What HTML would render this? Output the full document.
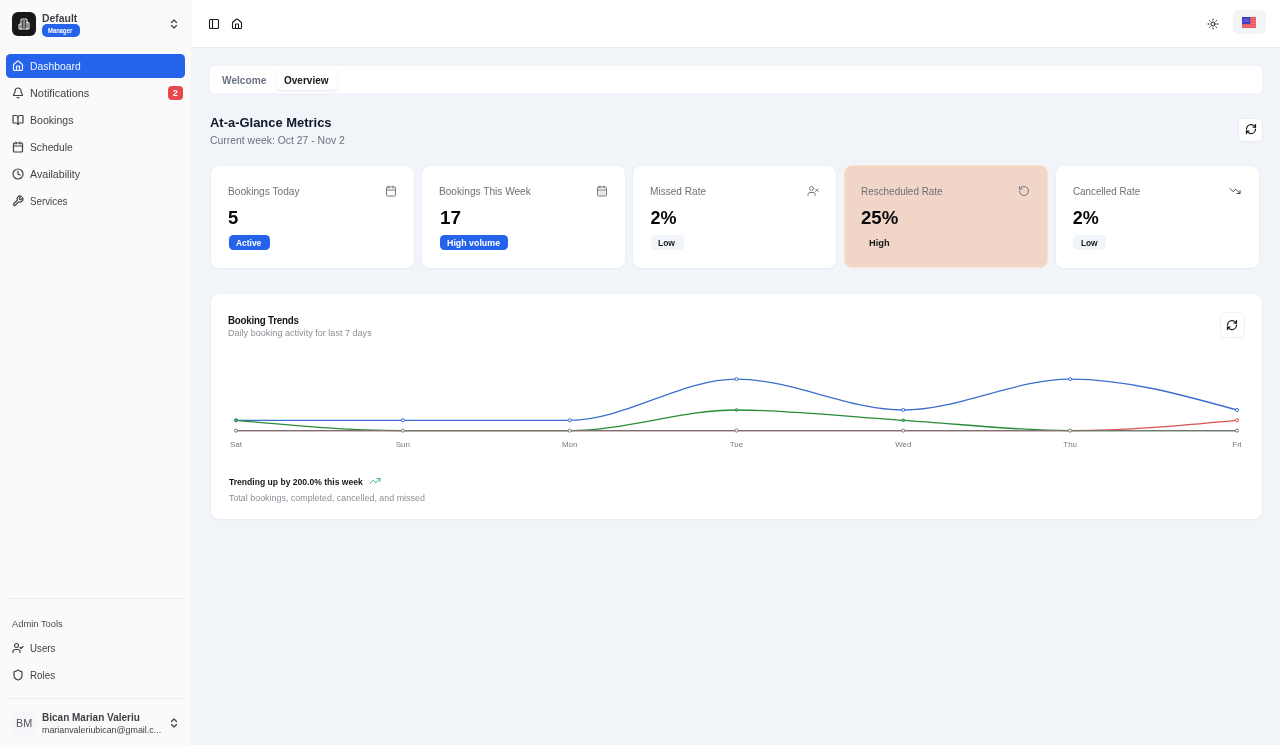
<!DOCTYPE html>
<html lang="en"><head><meta charset="utf-8"><title>Dashboard</title>
<style>
*{box-sizing:border-box;margin:0;padding:0}
html,body{width:1280px;height:745px;overflow:hidden;background:#f1f5f9;font-family:"Liberation Sans",sans-serif;}
#root{will-change:transform;position:relative;width:1280px;height:745px;overflow:hidden}
.g{display:contents}
.b{position:absolute}
.t{position:absolute;white-space:nowrap;font-family:"Liberation Sans",sans-serif}
.ic{position:absolute;overflow:visible}
.card{position:absolute;background:#fff;border-radius:8px;box-shadow:0 0 0 .75px rgba(226,232,240,.5),0 1px 2.5px rgba(15,23,42,.035)}
</style></head><body><div id="root">
<aside class="g">
<div class="b" style="left:0px;top:0px;width:191.5px;height:745px;background:#fafafa;border-radius:0px;"></div>
<div class="b" style="left:191px;top:47.5px;width:1px;height:697.5px;background:#f3f4f5;border-radius:0px;"></div>
<div class="b" style="left:12px;top:12px;width:24px;height:24px;background:#18181b;border-radius:6px;"></div>
<svg class="ic" style="left:18.00px;top:18.00px;width:12px;height:12px;" viewBox="0 0 24 24" fill="none" stroke="#f4f4f5" stroke-width="2.2" stroke-linecap="round" stroke-linejoin="round"><path d="M6 22V4a2 2 0 0 1 2-2h8a2 2 0 0 1 2 2v18Z"/><path d="M6 12H4a2 2 0 0 0-2 2v6a2 2 0 0 0 2 2h2"/><path d="M18 9h2a2 2 0 0 1 2 2v9a2 2 0 0 1-2 2h-2"/><path d="M10 6h4"/><path d="M10 10h4"/><path d="M10 14h4"/><path d="M10 18h4"/></svg>
<div class="b" style="left:42px;top:24px;width:37.6px;height:12.8px;background:#2563eb;border-radius:5px;"></div>
<svg class="ic" style="left:168.00px;top:18.00px;width:12px;height:12px;" viewBox="0 0 24 24" fill="none" stroke="#3f3f46" stroke-width="2.4" stroke-linecap="round" stroke-linejoin="round"><path d="m7 15 5 5 5-5"/><path d="m7 9 5-5 5 5"/></svg>
<div class="b" style="left:6px;top:54px;width:179px;height:24px;background:#2563eb;border-radius:4.5px;"></div>
<svg class="ic" style="left:12.00px;top:60.00px;width:12px;height:12px;" viewBox="0 0 24 24" fill="none" stroke="#eff6ff" stroke-width="2.4" stroke-linecap="round" stroke-linejoin="round"><path d="M15 21v-8a1 1 0 0 0-1-1h-4a1 1 0 0 0-1 1v8"/><path d="M3 10a2 2 0 0 1 .709-1.528l7-5.999a2 2 0 0 1 2.582 0l7 5.999A2 2 0 0 1 21 10v9a2 2 0 0 1-2 2H5a2 2 0 0 1-2-2z"/></svg>
<svg class="ic" style="left:12.00px;top:87.00px;width:12px;height:12px;" viewBox="0 0 24 24" fill="none" stroke="#3f3f46" stroke-width="2.4" stroke-linecap="round" stroke-linejoin="round"><path d="M10.268 21a2 2 0 0 0 3.464 0"/><path d="M3.262 15.326A1 1 0 0 0 4 17h16a1 1 0 0 0 .74-1.673C19.41 13.956 18 12.499 18 8A6 6 0 0 0 6 8c0 4.499-1.411 5.956-2.738 7.326"/></svg>
<svg class="ic" style="left:12.00px;top:114.00px;width:12px;height:12px;" viewBox="0 0 24 24" fill="none" stroke="#3f3f46" stroke-width="2.4" stroke-linecap="round" stroke-linejoin="round"><path d="M12 7v14"/><path d="M3 18a1 1 0 0 1-1-1V4a1 1 0 0 1 1-1h5a4 4 0 0 1 4 4 4 4 0 0 1 4-4h5a1 1 0 0 1 1 1v13a1 1 0 0 1-1 1h-6a3 3 0 0 0-3 3 3 3 0 0 0-3-3z"/></svg>
<svg class="ic" style="left:12.00px;top:141.00px;width:12px;height:12px;" viewBox="0 0 24 24" fill="none" stroke="#3f3f46" stroke-width="2.4" stroke-linecap="round" stroke-linejoin="round"><path d="M8 2v4"/><path d="M16 2v4"/><rect width="18" height="18" x="3" y="4" rx="2"/><path d="M3 10h18"/></svg>
<svg class="ic" style="left:12.00px;top:168.00px;width:12px;height:12px;" viewBox="0 0 24 24" fill="none" stroke="#3f3f46" stroke-width="2.4" stroke-linecap="round" stroke-linejoin="round"><circle cx="12" cy="12" r="10"/><polyline points="12 6 12 12 16 14"/></svg>
<svg class="ic" style="left:12.00px;top:195.00px;width:12px;height:12px;" viewBox="0 0 24 24" fill="none" stroke="#3f3f46" stroke-width="2.4" stroke-linecap="round" stroke-linejoin="round"><path d="M14.7 6.3a1 1 0 0 0 0 1.4l1.6 1.6a1 1 0 0 0 1.4 0l3.77-3.77a6 6 0 0 1-7.94 7.94l-6.91 6.91a2.12 2.12 0 0 1-3-3l6.91-6.91a6 6 0 0 1 7.94-7.94l-3.76 3.76z"/></svg>
<div class="b" style="left:168px;top:85.8px;width:14.6px;height:14.6px;background:#e5484d;border-radius:4px;"></div>
<div class="b" style="left:8px;top:598px;width:176px;height:0.75px;background:#ececee;border-radius:0px;"></div>
<div class="b" style="left:8px;top:698px;width:176px;height:0.75px;background:#ececee;border-radius:0px;"></div>
<svg class="ic" style="left:12.00px;top:642.00px;width:12px;height:12px;" viewBox="0 0 24 24" fill="none" stroke="#3f3f46" stroke-width="2.4" stroke-linecap="round" stroke-linejoin="round"><path d="m16 11 2 2 4-4"/><path d="M16 21v-2a4 4 0 0 0-4-4H6a4 4 0 0 0-4 4v2"/><circle cx="9" cy="7" r="4"/></svg>
<svg class="ic" style="left:12.00px;top:669.00px;width:12px;height:12px;" viewBox="0 0 24 24" fill="none" stroke="#3f3f46" stroke-width="2.4" stroke-linecap="round" stroke-linejoin="round"><path d="M20 13c0 5-3.5 7.5-7.66 8.95a1 1 0 0 1-.67-.01C7.5 20.5 4 18 4 13V6a1 1 0 0 1 1-1c2 0 4.5-1.2 6.24-2.72a1.17 1.17 0 0 1 1.52 0C14.51 3.81 17 5 19 5a1 1 0 0 1 1 1z"/></svg>
<div class="b" style="left:12px;top:711px;width:24px;height:24px;background:#f4f6f9;border-radius:6px;"></div>
<svg class="ic" style="left:168.00px;top:717.00px;width:12px;height:12px;" viewBox="0 0 24 24" fill="none" stroke="#3f3f46" stroke-width="2.4" stroke-linecap="round" stroke-linejoin="round"><path d="m7 15 5 5 5-5"/><path d="m7 9 5-5 5 5"/></svg>
<span class="t" style="left:41.95px;top:11.56px;font-size:10.5px;line-height:12.60px;font-weight:700;color:#3f3f46;transform-origin:0 50%;transform:scaleX(0.9899);">Default</span>
<span class="t" style="left:48.41px;top:26.94px;font-size:6.3px;line-height:7.56px;font-weight:700;color:#ffffff;transform-origin:0 50%;transform:scaleX(0.9373);">Manager</span>
<span class="t" style="left:29.76px;top:60.46px;font-size:10.5px;line-height:12.60px;font-weight:400;color:#eff6ff;transform-origin:0 50%;transform:scaleX(0.9900);">Dashboard</span>
<span class="t" style="left:29.72px;top:87.36px;font-size:10.5px;line-height:12.60px;font-weight:400;color:#3f3f46;transform-origin:0 50%;transform:scaleX(1.0357);">Notifications</span>
<span class="t" style="left:29.75px;top:114.46px;font-size:10.5px;line-height:12.60px;font-weight:400;color:#3f3f46;transform-origin:0 50%;transform:scaleX(1.0048);">Bookings</span>
<span class="t" style="left:30.01px;top:141.46px;font-size:10.5px;line-height:12.60px;font-weight:400;color:#3f3f46;transform-origin:0 50%;transform:scaleX(0.9754);">Schedule</span>
<span class="t" style="left:29.94px;top:168.36px;font-size:10.5px;line-height:12.60px;font-weight:400;color:#3f3f46;transform-origin:0 50%;transform:scaleX(1.0132);">Availability</span>
<span class="t" style="left:30.03px;top:195.46px;font-size:10.5px;line-height:12.60px;font-weight:400;color:#3f3f46;transform-origin:0 50%;transform:scaleX(0.9316);">Services</span>
<span class="t" style="left:175.30px;top:87.68px;font-size:9px;line-height:10.80px;font-weight:700;color:#ffffff;transform:translateX(-50%);">2</span>
<span class="t" style="left:11.94px;top:619.38px;font-size:9px;line-height:10.80px;font-weight:400;color:#4b4b52;transform-origin:0 50%;transform:scaleX(1.0392);">Admin Tools</span>
<span class="t" style="left:29.76px;top:641.76px;font-size:10.5px;line-height:12.60px;font-weight:400;color:#3f3f46;transform-origin:0 50%;transform:scaleX(0.9300);">Users</span>
<span class="t" style="left:29.75px;top:668.96px;font-size:10.5px;line-height:12.60px;font-weight:400;color:#3f3f46;transform-origin:0 50%;transform:scaleX(0.9333);">Roles</span>
<span class="t" style="left:15.82px;top:717.46px;font-size:10.5px;line-height:12.60px;font-weight:400;color:#52525b;transform-origin:0 50%;transform:scaleX(1.0286);">BM</span>
<span class="t" style="left:41.97px;top:711.26px;font-size:10.5px;line-height:12.60px;font-weight:700;color:#3f3f46;transform-origin:0 50%;transform:scaleX(0.9531);">Bican Marian Valeriu</span>
<span class="t" style="left:41.95px;top:725.38px;font-size:9px;line-height:10.80px;font-weight:400;color:#3f3f46;transform-origin:0 50%;transform:scaleX(0.9870);">marianvaleriubican@gmail.c...</span>
</aside>
<header class="g">
<div class="b" style="left:191.5px;top:0px;width:1088.5px;height:47.5px;background:#ffffff;border-radius:0px;border-bottom:0.8px solid #e7ebf0;"></div>
<svg class="ic" style="left:208.10px;top:18.00px;width:12px;height:12px;" viewBox="0 0 24 24" fill="none" stroke="#1c1c1f" stroke-width="2.2" stroke-linecap="round" stroke-linejoin="round"><rect width="18" height="18" x="3" y="3" rx="2"/><path d="M9 3v18"/></svg>
<svg class="ic" style="left:231.00px;top:17.70px;width:12px;height:12px;" viewBox="0 0 24 24" fill="none" stroke="#1c1c1f" stroke-width="2.2" stroke-linecap="round" stroke-linejoin="round"><path d="M15 21v-8a1 1 0 0 0-1-1h-4a1 1 0 0 0-1 1v8"/><path d="M3 10a2 2 0 0 1 .709-1.528l7-5.999a2 2 0 0 1 2.582 0l7 5.999A2 2 0 0 1 21 10v9a2 2 0 0 1-2 2H5a2 2 0 0 1-2-2z"/></svg>
<svg class="ic" style="left:1207.00px;top:18.00px;width:12px;height:12px;" viewBox="0 0 24 24" fill="none" stroke="#1c1c1f" stroke-width="2.0" stroke-linecap="round" stroke-linejoin="round"><circle cx="12" cy="12" r="4"/><path d="M12 2v2"/><path d="M12 20v2"/><path d="m4.93 4.93 1.41 1.41"/><path d="m17.66 17.66 1.41 1.41"/><path d="M2 12h2"/><path d="M20 12h2"/><path d="m6.34 17.66-1.41 1.41"/><path d="m19.07 4.93-1.41 1.41"/></svg>
<div class="b" style="left:1233.3px;top:10.2px;width:32.7px;height:24.1px;background:#f3f4f6;border-radius:5.5px;"></div>
<svg class="ic" style="left:1242px;top:17px;width:14px;height:11px" viewBox="0 0 14 11">
<rect width="14" height="11" fill="#ea4c52"/>
<g fill="#f4898d"><rect y="1" width="14" height=".7"/><rect y="2.7" width="14" height=".7"/><rect y="4.4" width="14" height=".7"/><rect y="6.1" width="14" height=".7"/><rect y="7.8" width="14" height=".7"/><rect y="9.5" width="14" height=".7"/></g>
<rect width="8.3" height="6.9" fill="#3f38bd"/><rect x="1.2" y="1.5" width="5.8" height="3.8" fill="#5d58d8"/></svg>
</header>
<main class="g">
<div class="b" style="left:210px;top:66px;width:1052px;height:26.5px;background:#ffffff;border-radius:5px;"></div>
<div class="b" style="left:276px;top:70.2px;width:61px;height:19.8px;background:#ffffff;border-radius:4px;box-shadow:0 0.75px 2px rgba(15,23,42,.11),0 0 0.75px rgba(15,23,42,.06);"></div>
<div class="b" style="left:1239px;top:118.5px;width:23px;height:22.5px;background:#ffffff;border-radius:4px;box-shadow:0 0 0 .75px rgba(226,232,240,.8),0 1px 1.5px rgba(15,23,42,.05);"></div>
<svg class="ic" style="left:1244.50px;top:123.00px;width:12px;height:12px;" viewBox="0 0 24 24" fill="none" stroke="#18181b" stroke-width="2.5" stroke-linecap="round" stroke-linejoin="round"><path d="M3 12a9 9 0 0 1 9-9 9.75 9.75 0 0 1 6.74 2.74L21 8"/><path d="M21 3v5h-5"/><path d="M21 12a9 9 0 0 1-9 9 9.75 9.75 0 0 1-6.74-2.74L3 16"/><path d="M8 16H3v5"/></svg>
<div class="card" style="left:211px;top:166px;width:203px;height:102px"></div>
<div class="card" style="left:422px;top:166px;width:203px;height:102px"></div>
<div class="card" style="left:633px;top:166px;width:203px;height:102px"></div>
<div class="b" style="left:844px;top:164.7px;width:204px;height:103.8px;background:#f0d5c8;border:1.5px solid #f6e8c4;border-radius:8px"></div>
<div class="card" style="left:1056px;top:166px;width:203px;height:102px"></div>
<svg class="ic" style="left:384.50px;top:185.20px;width:12px;height:12px;" viewBox="0 0 24 24" fill="none" stroke="#77797e" stroke-width="2.0" stroke-linecap="round" stroke-linejoin="round"><path d="M8 2v4"/><path d="M16 2v4"/><rect width="18" height="18" x="3" y="4" rx="2"/><path d="M3 10h18"/></svg>
<svg class="ic" style="left:595.50px;top:185.20px;width:12px;height:12px;" viewBox="0 0 24 24" fill="none" stroke="#77797e" stroke-width="2.0" stroke-linecap="round" stroke-linejoin="round"><path d="M8 2v4"/><path d="M16 2v4"/><rect width="18" height="18" x="3" y="4" rx="2"/><path d="M3 10h18"/><path d="M8 14h.01"/><path d="M12 14h.01"/><path d="M16 14h.01"/><path d="M8 18h.01"/><path d="M12 18h.01"/><path d="M16 18h.01"/></svg>
<svg class="ic" style="left:806.50px;top:185.20px;width:12px;height:12px;" viewBox="0 0 24 24" fill="none" stroke="#77797e" stroke-width="2.0" stroke-linecap="round" stroke-linejoin="round"><path d="M16 21v-2a4 4 0 0 0-4-4H6a4 4 0 0 0-4 4v2"/><circle cx="9" cy="7" r="4"/><line x1="17" x2="22" y1="8" y2="13"/><line x1="22" x2="17" y1="8" y2="13"/></svg>
<svg class="ic" style="left:1018.00px;top:185.20px;width:12px;height:12px;" viewBox="0 0 24 24" fill="none" stroke="#77797e" stroke-width="2.0" stroke-linecap="round" stroke-linejoin="round"><path d="M3 12a9 9 0 1 0 9-9 9.75 9.75 0 0 0-6.74 2.74L3 8"/><path d="M3 3v5h5"/></svg>
<svg class="ic" style="left:1229.30px;top:185.30px;width:12px;height:12px;" viewBox="0 0 24 24" fill="none" stroke="#3f3f46" stroke-width="1.9" stroke-linecap="round" stroke-linejoin="round"><polyline points="22 17 13.5 8.5 8.5 13.5 2 7"/><polyline points="16 17 22 17 22 11"/></svg>
<div class="b" style="left:229px;top:234.7px;width:40.6px;height:15.8px;background:#2563eb;border-radius:4.5px;"></div>
<div class="b" style="left:439.7px;top:234.7px;width:68px;height:15.8px;background:#2563eb;border-radius:4.5px;"></div>
<div class="b" style="left:651px;top:234.7px;width:32.5px;height:15.8px;background:#f1f5f9;border-radius:4.5px;"></div>
<div class="b" style="left:1073px;top:234.7px;width:32.5px;height:15.8px;background:#f1f5f9;border-radius:4.5px;"></div>
<div class="card" style="left:211px;top:294.3px;width:1051px;height:225px"></div>
<div class="b" style="left:1220.5px;top:313px;width:23.2px;height:23.6px;background:#ffffff;border-radius:4px;box-shadow:0 0 0 .75px rgba(232,234,238,.85),0 1px 1.5px rgba(15,23,42,.04);"></div>
<svg class="ic" style="left:1226.10px;top:319.00px;width:12px;height:12px;" viewBox="0 0 24 24" fill="none" stroke="#18181b" stroke-width="2.5" stroke-linecap="round" stroke-linejoin="round"><path d="M3 12a9 9 0 0 1 9-9 9.75 9.75 0 0 1 6.74 2.74L21 8"/><path d="M21 3v5h-5"/><path d="M21 12a9 9 0 0 1-9 9 9.75 9.75 0 0 1-6.74-2.74L3 16"/><path d="M8 16H3v5"/></svg>
<svg class="ic" style="left:369.20px;top:475.20px;width:12px;height:12px;" viewBox="0 0 24 24" fill="none" stroke="#2fb380" stroke-width="2.0" stroke-linecap="round" stroke-linejoin="round"><polyline points="22 7 13.5 15.5 8.5 10.5 2 17"/><polyline points="16 7 22 7 22 13"/></svg>
<svg class="ic" style="left:0;top:0;width:1280px;height:745px" viewBox="0 0 1280 745" fill="none"><path d="M236.00,420.30C291.61,420.30,347.22,420.30,402.83,420.30C458.44,420.30,514.05,420.30,569.66,420.30C625.27,420.30,680.88,379.10,736.49,379.10C792.10,379.10,847.71,410.00,903.32,410.00C958.93,410.00,1014.54,379.10,1070.15,379.10C1125.76,379.10,1181.37,394.55,1236.98,410.00" stroke="#3c6ecd" stroke-width="1.3"/><circle cx="236.00" cy="420.30" r="1.55" fill="#fff" stroke="#3c6ecd" stroke-width="1"/><circle cx="402.83" cy="420.30" r="1.55" fill="#fff" stroke="#3c6ecd" stroke-width="1"/><circle cx="569.66" cy="420.30" r="1.55" fill="#fff" stroke="#3c6ecd" stroke-width="1"/><circle cx="736.49" cy="379.10" r="1.55" fill="#fff" stroke="#3c6ecd" stroke-width="1"/><circle cx="903.32" cy="410.00" r="1.55" fill="#fff" stroke="#3c6ecd" stroke-width="1"/><circle cx="1070.15" cy="379.10" r="1.55" fill="#fff" stroke="#3c6ecd" stroke-width="1"/><circle cx="1236.98" cy="410.00" r="1.55" fill="#fff" stroke="#3c6ecd" stroke-width="1"/><path d="M236.00,420.30C291.61,425.45,347.22,430.60,402.83,430.60C458.44,430.60,514.05,430.60,569.66,430.60C625.27,430.60,680.88,410.00,736.49,410.00C792.10,410.00,847.71,416.87,903.32,420.30C958.93,423.73,1014.54,430.60,1070.15,430.60C1125.76,430.60,1181.37,430.60,1236.98,430.60" stroke="#288c37" stroke-width="1.3"/><circle cx="236.00" cy="420.30" r="1.25" fill="#6cc07a" stroke="#288c37" stroke-width="1"/><circle cx="736.49" cy="410.00" r="1.25" fill="#6cc07a" stroke="#288c37" stroke-width="1"/><circle cx="903.32" cy="420.30" r="1.25" fill="#6cc07a" stroke="#288c37" stroke-width="1"/><path d="M236.00,430.60C291.61,430.60,347.22,430.60,402.83,430.60C458.44,430.60,514.05,430.60,569.66,430.60C625.27,430.60,680.88,430.60,736.49,430.60C792.10,430.60,847.71,430.60,903.32,430.60C958.93,430.60,1014.54,430.60,1070.15,430.60C1125.76,430.60,1181.37,425.45,1236.98,420.30" stroke="#d9534f" stroke-width="1.3"/><circle cx="1236.98" cy="420.30" r="1.55" fill="#fff" stroke="#d9534f" stroke-width="1"/><path d="M236.00,430.60C291.61,430.60,347.22,430.60,402.83,430.60C458.44,430.60,514.05,430.60,569.66,430.60C625.27,430.60,680.88,430.60,736.49,430.60C792.10,430.60,847.71,430.60,903.32,430.60C958.93,430.60,1014.54,430.60,1070.15,430.60C1125.76,430.60,1181.37,430.60,1236.98,430.60" stroke="#767373" stroke-width="1.3"/><circle cx="236.00" cy="430.60" r="1.55" fill="#fff" stroke="#767373" stroke-width="1"/><circle cx="402.83" cy="430.60" r="1.55" fill="#fff" stroke="#767373" stroke-width="1"/><circle cx="569.66" cy="430.60" r="1.55" fill="#fff" stroke="#767373" stroke-width="1"/><circle cx="736.49" cy="430.60" r="1.55" fill="#fff" stroke="#767373" stroke-width="1"/><circle cx="903.32" cy="430.60" r="1.55" fill="#fff" stroke="#767373" stroke-width="1"/><circle cx="1070.15" cy="430.60" r="1.55" fill="#fff" stroke="#767373" stroke-width="1"/><circle cx="1236.98" cy="430.60" r="1.55" fill="#fff" stroke="#767373" stroke-width="1"/></svg>
<span class="t" style="left:222.14px;top:73.66px;font-size:10.5px;line-height:12.60px;font-weight:700;color:#6b7385;transform-origin:0 50%;transform:scaleX(0.9648);">Welcome</span>
<span class="t" style="left:284.40px;top:73.66px;font-size:10.5px;line-height:12.60px;font-weight:700;color:#18181b;transform-origin:0 50%;transform:scaleX(0.9535);">Overview</span>
<span class="t" style="left:210.06px;top:115.42px;font-size:13.5px;line-height:16.20px;font-weight:700;color:#0f172a;transform-origin:0 50%;transform:scaleX(0.9587);">At-a-Glance Metrics</span>
<span class="t" style="left:209.80px;top:134.06px;font-size:10.5px;line-height:12.60px;font-weight:400;color:#6d7079;transform-origin:0 50%;transform:scaleX(0.9915);">Current week: Oct 27 - Nov 2</span>
<span class="t" style="left:228.27px;top:185.36px;font-size:10.5px;line-height:12.60px;font-weight:400;color:#6d7079;transform-origin:0 50%;transform:scaleX(0.9679);">Bookings Today</span>
<span class="t" style="left:228.49px;top:207.56px;font-size:18px;line-height:21.60px;font-weight:700;color:#09090b;transform-origin:0 50%;transform:scaleX(1.0222);">5</span>
<span class="t" style="left:236.41px;top:238.48px;font-size:9px;line-height:10.80px;font-weight:700;color:#ffffff;transform-origin:0 50%;transform:scaleX(0.9358);">Active</span>
<span class="t" style="left:439.23px;top:185.36px;font-size:10.5px;line-height:12.60px;font-weight:400;color:#6d7079;transform-origin:0 50%;transform:scaleX(0.9630);">Bookings This Week</span>
<span class="t" style="left:440.04px;top:207.66px;font-size:18px;line-height:21.60px;font-weight:700;color:#09090b;transform-origin:0 50%;transform:scaleX(1.0500);">17</span>
<span class="t" style="left:447.01px;top:238.48px;font-size:9px;line-height:10.80px;font-weight:700;color:#ffffff;transform-origin:0 50%;transform:scaleX(0.9822);">High volume</span>
<span class="t" style="left:650.28px;top:185.36px;font-size:10.5px;line-height:12.60px;font-weight:400;color:#6d7079;transform-origin:0 50%;transform:scaleX(0.9607);">Missed Rate</span>
<span class="t" style="left:650.50px;top:207.56px;font-size:18px;line-height:21.60px;font-weight:700;color:#09090b;">2%</span>
<span class="t" style="left:658.03px;top:238.48px;font-size:9px;line-height:10.80px;font-weight:700;color:#18181b;transform-origin:0 50%;transform:scaleX(0.9429);">Low</span>
<span class="t" style="left:860.90px;top:185.36px;font-size:10.5px;line-height:12.60px;font-weight:400;color:#6d7079;transform-origin:0 50%;transform:scaleX(0.9447);">Rescheduled Rate</span>
<span class="t" style="left:861.07px;top:207.56px;font-size:18px;line-height:21.60px;font-weight:700;color:#09090b;transform-origin:0 50%;transform:scaleX(1.0360);">25%</span>
<span class="t" style="left:869.27px;top:238.48px;font-size:9px;line-height:10.80px;font-weight:700;color:#18181b;transform-origin:0 50%;transform:scaleX(1.0293);">High</span>
<span class="t" style="left:1072.67px;top:185.36px;font-size:10.5px;line-height:12.60px;font-weight:400;color:#6d7079;transform-origin:0 50%;transform:scaleX(0.9357);">Cancelled Rate</span>
<span class="t" style="left:1072.64px;top:207.56px;font-size:18px;line-height:21.60px;font-weight:700;color:#09090b;">2%</span>
<span class="t" style="left:1080.68px;top:238.48px;font-size:9px;line-height:10.80px;font-weight:700;color:#18181b;letter-spacing:-0.148px;transform-origin:0 50%;transform:scaleX(0.9300);">Low</span>
<span class="t" style="left:228.15px;top:313.66px;font-size:10.5px;line-height:12.60px;font-weight:700;color:#14161b;letter-spacing:-0.229px;transform-origin:0 50%;transform:scaleX(0.9300);">Booking Trends</span>
<span class="t" style="left:228.09px;top:327.58px;font-size:9px;line-height:10.80px;font-weight:400;color:#8c8f97;transform-origin:0 50%;transform:scaleX(1.0078);">Daily booking activity for last 7 days</span>
<span class="t" style="left:236.00px;top:440.03px;font-size:8px;line-height:9.60px;font-weight:400;color:#7a7a7a;transform:translateX(-50%);">Sat</span>
<span class="t" style="left:402.83px;top:440.03px;font-size:8px;line-height:9.60px;font-weight:400;color:#7a7a7a;transform:translateX(-50%);">Sun</span>
<span class="t" style="left:569.66px;top:440.03px;font-size:8px;line-height:9.60px;font-weight:400;color:#7a7a7a;transform:translateX(-50%);">Mon</span>
<span class="t" style="left:736.49px;top:440.03px;font-size:8px;line-height:9.60px;font-weight:400;color:#7a7a7a;transform:translateX(-50%);">Tue</span>
<span class="t" style="left:903.32px;top:440.03px;font-size:8px;line-height:9.60px;font-weight:400;color:#7a7a7a;transform:translateX(-50%);">Wed</span>
<span class="t" style="left:1070.15px;top:440.03px;font-size:8px;line-height:9.60px;font-weight:400;color:#7a7a7a;transform:translateX(-50%);">Thu</span>
<span class="t" style="left:1236.98px;top:440.03px;font-size:8px;line-height:9.60px;font-weight:400;color:#7a7a7a;transform:translateX(-50%);">Fri</span>
<span class="t" style="left:228.80px;top:477.28px;font-size:9px;line-height:10.80px;font-weight:700;color:#18181b;transform-origin:0 50%;transform:scaleX(0.9523);">Trending up by 200.0% this week</span>
<span class="t" style="left:228.75px;top:492.58px;font-size:9px;line-height:10.80px;font-weight:400;color:#8c8f97;transform-origin:0 50%;transform:scaleX(0.9886);">Total bookings, completed, cancelled, and missed</span>
</main>
</div></body></html>
